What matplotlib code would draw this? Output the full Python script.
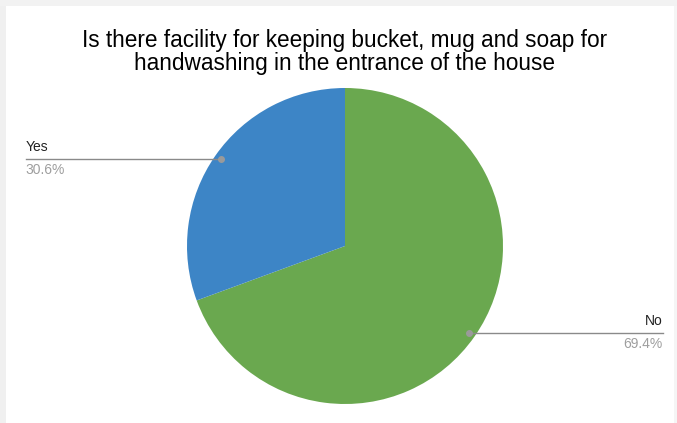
import numpy as np
import matplotlib.pyplot as plt
from matplotlib.patches import Rectangle

plt.rcParams['font.family'] = ['Liberation Sans', 'DejaVu Sans']

title = 'Is there facility for keeping bucket, mug and soap for\nhandwashing in the entrance of the house'
labels = ['No', 'Yes']
shares = [69.4, 30.6]
colors = ['#6aa84f', '#3d85c6']

W, H = 677, 423
fig = plt.figure(figsize=(W / 100, H / 100), dpi=100)
fig.patch.set_facecolor('white')

# light card edge along the left and top
fig.add_artist(Rectangle((0, 0), 6 / W, 1, transform=fig.transFigure,
                         facecolor='#f0f0f0', edgecolor='none'))
fig.add_artist(Rectangle((0, 1 - 6 / H), 1, 6 / H, transform=fig.transFigure,
                         facecolor='#f2f2f2', edgecolor='none'))
fig.add_artist(Rectangle((1 - 3 / W, 0), 3 / W, 1 - 6 / H, transform=fig.transFigure,
                         facecolor='#f5f5f5', edgecolor='none'))

fig.text(345 / W, 1 - 52 / H, title, ha='center', va='center',
         fontsize=16.3, color='#000000', linespacing=1.05)

cx, cy, r = 345, 246, 158
ax = fig.add_axes([(cx - r) / W, (H - cy - r) / H, 2 * r / W, 2 * r / H])
wedges, _ = ax.pie(shares, colors=colors, startangle=90, counterclock=False,
                   radius=1, wedgeprops=dict(linewidth=0))
ax.set_xlim(-1, 1)
ax.set_ylim(-1, 1)
ax.set_aspect('equal')
ax.axis('off')

for w, lab, val in zip(wedges, labels, shares):
    mid = np.deg2rad((w.theta1 + w.theta2) / 2)
    px, py = 0.96 * np.cos(mid), 0.96 * np.sin(mid)
    side = 1 if px > 0 else -1
    ex = 2.01 * side if side > 0 else -2.02
    ax.plot([px, ex], [py, py], color='#8a8a8a', lw=1, clip_on=False)
    ax.plot([px], [py], 'o', color='#9a9a9a', ms=4, clip_on=False)
    ha = 'right' if side > 0 else 'left'
    ax.text(ex, py + 0.03, lab, ha=ha, va='bottom', fontsize=10,
            color='#222222', clip_on=False)
    ax.text(ex, py - 0.025, f'{val}%', ha=ha, va='top', fontsize=10,
            color='#9e9e9e', clip_on=False)

fig.savefig('out.png', dpi=100)
